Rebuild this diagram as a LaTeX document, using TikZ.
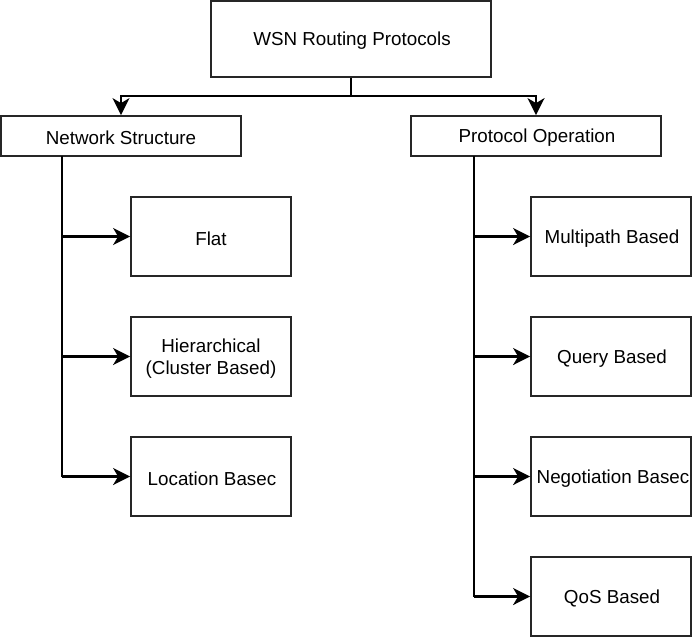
\documentclass[tikz,border=0pt]{standalone}
\usepackage{fontspec}
\setmainfont{Liberation Sans}
\usetikzlibrary{arrows.meta}
\begin{document}
\begin{tikzpicture}[x=1pt,y=-1pt,
  box/.style={draw=black!85,line width=1.8pt,rectangle,inner sep=0pt,align=center,
    font=\fontsize{18.5}{22}\selectfont,text=black},
  wide/.style={box,minimum width=280pt,minimum height=76pt},
  mid/.style={box,minimum height=40pt},
  leaf/.style={box,minimum width=160pt,minimum height=79pt},
  lbl/.style={font=\fontsize{18.8}{22}\selectfont,align=center,inner sep=0pt,text=black},
  conn/.style={line width=2.4pt,black,-{Stealth[length=17pt,width=17pt,inset=5pt]}},
  plainline/.style={line width=2.4pt,black}]
\useasboundingbox (0,0) rectangle (692,637);
\node[wide] (root) at (351,39) {};
\node[mid,minimum width=240pt] (ns) at (121,136) {};
\node[mid,minimum width=250pt] (po) at (536,136) {};
\node[leaf] (flat) at (211,236.5) {};
\node[leaf] (hier) at (211,356.5) {};
\node[leaf] (loc) at (211,476.5) {};
\node[leaf] (multi) at (611,236.5) {};
\node[leaf] (query) at (611,356.5) {};
\node[leaf] (nego) at (611,476.5) {};
\node[leaf] (qos) at (611,596.5) {};
\node[lbl] (troot) at (352,41) {WSN Routing Protocols};
\node[lbl] (tns) at (121,138) {Network Structure};
\node[lbl] (tpo) at (537,138) {Protocol Operation};
\node[lbl] (tflat) at (211,238.5) {Flat};
\node[lbl] (thier) at (211,358.5) {Hierarchical\\(Cluster Based)};
\node[lbl] (tloc) at (212,478.5) {Location Basec};
\node[lbl] (tmulti) at (612,238.5) {Multipath Based};
\node[lbl] (tquery) at (612,358.5) {Query Based};
\node[lbl] (tnego) at (613,478.5) {Negotiation Basec};
\node[lbl] (tqos) at (612,598.5) {QoS Based};
\coordinate (split) at (351,96);
\draw[plainline] (root.south) -- (split);
\draw[conn] (split) -| (ns.north);
\draw[conn] (split) -| (po.north);
\coordinate (nsb) at (62,156);
\coordinate (pob) at (474,156);
\draw[plainline] (nsb) -- (nsb |- loc.west);
\draw[plainline] (pob) -- (pob |- qos.west);
\draw[conn] (nsb |- flat.west) -- (flat.west);
\draw[conn] (nsb |- hier.west) -- (hier.west);
\draw[conn] (nsb |- loc.west) -- (loc.west);
\draw[conn] (pob |- multi.west) -- (multi.west);
\draw[conn] (pob |- query.west) -- (query.west);
\draw[conn] (pob |- nego.west) -- (nego.west);
\draw[conn] (pob |- qos.west) -- (qos.west);
\end{tikzpicture}
\end{document}
